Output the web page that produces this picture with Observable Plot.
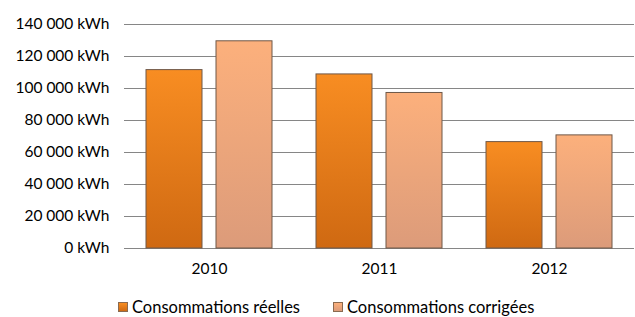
<!DOCTYPE html>
<html>
<head>
<meta charset="utf-8">
<script src="https://cdn.jsdelivr.net/npm/d3@7"></script>
<script src="https://cdn.jsdelivr.net/npm/@observablehq/plot@0.6"></script>
<style>
  html, body { margin: 0; padding: 0; background: #fff; }
  body { width: 635px; height: 317px; overflow: hidden; font-family: Lato, "Open Sans", sans-serif; }
  #chart svg { display: block; }
  #legend { display: flex; align-items: center; padding-left: 118px; margin-top: 7px; height: 20px; line-height: 20px; font-size: 16.5px; color: #000; }
  .item { display: flex; align-items: center; margin-right: 33px; }
  .sw { width: 10px; height: 10px; margin-right: 4px; box-sizing: border-box; border: 1px solid #8a6a50; }
</style>
</head>
<body>
<div id="chart"></div>
<div id="legend"></div>
<script>
const years = ["2010", "2011", "2012"];
const series = ["Consommations réelles", "Consommations corrigées"];
const reelles = [111500, 108800, 66500];
const corrigees = [129500, 97200, 70700];
const yTicks = [0, 20000, 40000, 60000, 80000, 100000, 120000, 140000];
const seriesColors = [["#f88d22", "#cf6912"], ["#fcb07c", "#dc9b7a"]];

const rows = [];
years.forEach((y, i) => {
  rows.push({year: y, series: series[0], value: reelles[i]});
  rows.push({year: y, series: series[1], value: corrigees[i]});
});

const fmt = d => d3.format(",")(d).replace(/,/g, " ") + " kWh";

const chart = Plot.plot({
  width: 635,
  height: 290,
  marginLeft: 123,
  marginRight: 0,
  marginTop: 24,
  marginBottom: 42,
  style: {fontFamily: "Lato, sans-serif", fontSize: "15.5px", color: "#000", background: "#fff"},
  fx: {domain: years, padding: 0, label: null, axis: "bottom", tickSize: 0, tickPadding: 14},
  x: {domain: series, paddingInner: 0.2, paddingOuter: 0.3, axis: null},
  y: {domain: [0, 140000], axis: null},
  color: {domain: series, range: ["url(#gR)", "url(#gC)"]},
  marks: [
    Plot.gridY(yTicks, {stroke: "#868686", strokeOpacity: 1, strokeWidth: 1}),
    Plot.axisY({ticks: yTicks, tickFormat: fmt, tickSize: 0, tickPadding: 15, line: true, stroke: "#868686", fill: "#000", label: null}),
    Plot.barY(rows, {fx: "year", x: "series", y: "value", fill: "series", stroke: "#6f5848", strokeWidth: 1})
  ]
});

// gradient definitions
const ns = "http://www.w3.org/2000/svg";
const defs = document.createElementNS(ns, "defs");
[["gR", seriesColors[0]], ["gC", seriesColors[1]]].forEach(([id, [c1, c2]]) => {
  const g = document.createElementNS(ns, "linearGradient");
  g.setAttribute("id", id);
  g.setAttribute("x1", "0"); g.setAttribute("y1", "0");
  g.setAttribute("x2", "0"); g.setAttribute("y2", "1");
  [[0, c1], [1, c2]].forEach(([o, c]) => {
    const s = document.createElementNS(ns, "stop");
    s.setAttribute("offset", o);
    s.setAttribute("stop-color", c);
    g.appendChild(s);
  });
  defs.appendChild(g);
});
chart.insertBefore(defs, chart.firstChild);
document.getElementById("chart").appendChild(chart);

const legend = document.getElementById("legend");
series.forEach((s, i) => {
  const item = document.createElement("div");
  item.className = "item";
  const sw = document.createElement("span");
  sw.className = "sw";
  sw.style.background = `linear-gradient(${seriesColors[i][0]}, ${seriesColors[i][1]})`;
  const t = document.createElement("span");
  t.textContent = s;
  item.appendChild(sw); item.appendChild(t);
  legend.appendChild(item);
});
</script>
</body>
</html>
